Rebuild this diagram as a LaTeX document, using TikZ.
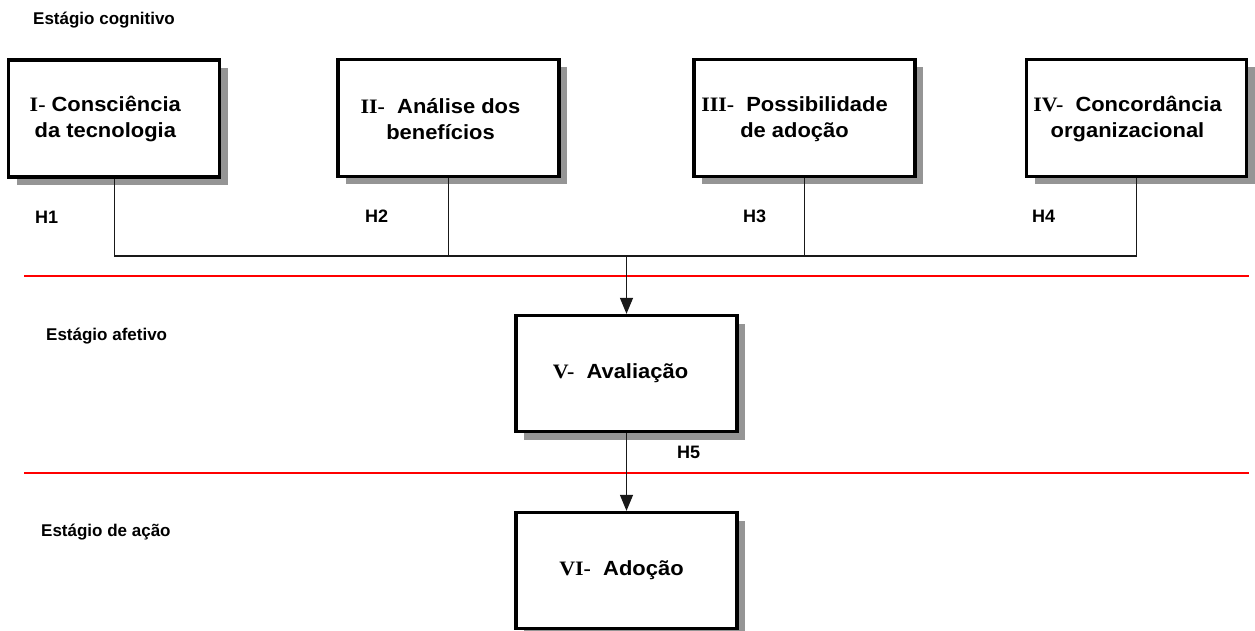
\documentclass[tikz,border=0pt]{standalone}
\usepackage{fontspec}
\setmainfont{Liberation Sans}
\newfontfamily\boxfont[FakeStretch=1.07]{Liberation Sans}
\newfontfamily\numfont[FakeStretch=1.07]{Liberation Serif}
\usetikzlibrary{arrows.meta,shadows,calc}
\definecolor{shadowgray}{HTML}{959595}
\definecolor{stagered}{HTML}{FF0000}
\newcommand{\rn}[1]{{\numfont\bfseries #1}}
\begin{document}
\begin{tikzpicture}[x=1pt,y=-1pt,
  stepbox/.style={draw=black, line width=3.3pt, fill=white, inner sep=0pt,
    minimum height=117, minimum width=#1,
    drop shadow={shadow xshift=8pt, shadow yshift=-8pt, fill=shadowgray, opacity=1}},
  boxtext/.style={font=\boxfont\bfseries\fontsize{20.5}{26}\selectfont, align=center, inner sep=0pt},
  stagelabel/.style={font=\bfseries\fontsize{17}{20}\selectfont, anchor=base west, inner sep=0pt},
  hlabel/.style={font=\bfseries\fontsize{18}{21}\selectfont, anchor=base west, inner sep=0pt},
  link/.style={line width=1.2pt, draw=black!90},
  divider/.style={line width=2.8pt, draw=stagered},
  flow/.style={link, -{Triangle[width=13pt,length=16pt]}}]
\useasboundingbox (0,0) rectangle (1255,631);

% stage dividers
\coordinate (d1l) at (24,276);
\coordinate (d1r) at (1249,276);
\coordinate (d2l) at (24,473);
\coordinate (d2r) at (1249,473);
\draw[divider] (d1l) -- (d1r);
\draw[divider] (d2l) -- (d2r);

% stage titles
\node[stagelabel] (s1) at (33,25) {Estágio cognitivo};
\node[stagelabel] (s2) at (46,340) {Estágio afetivo};
\node[stagelabel] (s3) at (41,536) {Estágio de ação};

% boxes
\node[stepbox=211] (b1) at (114.3,118.5) {};
\node[stepbox=221] (b2) at (448.5,118) {};
\node[stepbox=221] (b3) at (804.5,118) {};
\node[stepbox=220] (b4) at (1136.5,118) {};
\node[stepbox=221, minimum height=116] (b5) at (626.5,373.5) {};
\node[stepbox=221, minimum height=116] (b6) at (626.5,570.5) {};

% box texts
\node[boxtext] (t1) at ($(b1.center)+(-9,0.5)$) {\rn{I-} Consciência\\da tecnologia};
\node[boxtext] (t2) at ($(b2.center)+(-8,1)$) {\rn{II-}\ \ Análise dos\\benefícios};
\node[boxtext] (t3) at ($(b3.center)+(-10,1)$) {\rn{III-}\ \ Possibilidade\\de adoção};
\node[boxtext] (t4) at ($(b4.center)+(-9,1)$) {\rn{IV-}\ \ Concordância\\organizacional};
\node[boxtext] (t5) at ($(b5.center)+(-6,0)$) {\rn{V-}\ \ Avaliação};
\node[boxtext] (t6) at ($(b6.center)+(-5,0)$) {\rn{VI-}\ \ Adoção};

% hypothesis labels
\node[hlabel] (h1) at (35,223) {H1};
\node[hlabel] (h2) at (365,222.5) {H2};
\node[hlabel] (h3) at (743,222.5) {H3};
\node[hlabel] (h4) at (1032,222.5) {H4};
\node[hlabel] (h5) at (677,458) {H5};

% connectors
\coordinate (bus) at (626.5,256);
\draw[link] (b1.south) -- (b1.south |- bus) -- (b4.south |- bus) -- (b4.south);
\draw[link] (b2.south) -- (b2.south |- bus);
\draw[link] (b3.south) -- (b3.south |- bus);
\draw[flow] (bus) -- (b5.north);
\draw[flow] (b5.south) -- (b6.north);
\end{tikzpicture}
\end{document}
